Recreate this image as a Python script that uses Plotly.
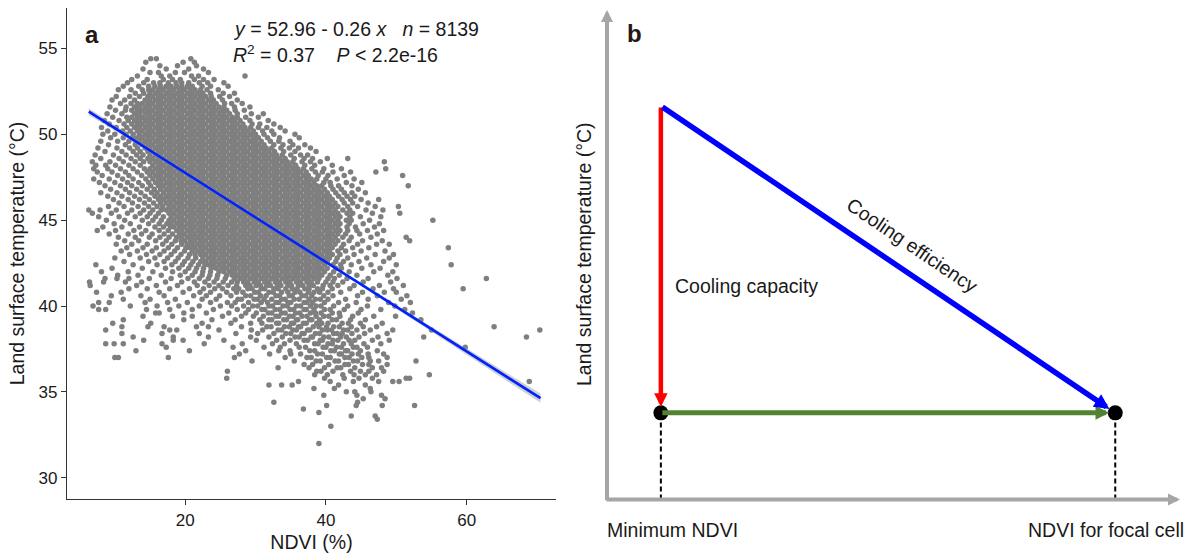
import plotly.graph_objects as go

FONT = "Liberation Sans, Arial, Helvetica, sans-serif"
W, H = 1192, 560

# ---------------- Panel a: values ----------------
fit_intercept = 52.96
fit_slope = -0.26
fit_ndvi_range = [6.3, 70.5]
ci_ndvi = [6.3, 15.0, 25.0, 35.0, 45.0, 55.0, 62.0, 70.5]
ci_halfwidth = [0.20, 0.12, 0.06, 0.05, 0.08, 0.14, 0.19, 0.27]

x_ticks = [20, 40, 60]
y_ticks = [30, 35, 40, 45, 50, 55]

equation_text = "<i>y</i> = 52.96 - 0.26 <i>x</i>&nbsp;&nbsp;&nbsp;<i>n</i> = 8139"
stats_text = "<i>R</i><sup>2</sup> = 0.37&nbsp;&nbsp;&nbsp;&nbsp;<i>P</i> &lt; 2.2e-16"

# scatter points grouped by land surface temperature row (degC); NDVI (%) of the points in each row
lst_rows = [
    54.4, 54.2, 54.0, 53.8, 53.6, 53.4, 53.2, 53.0, 52.8, 52.6, 52.4, 52.2, 52.0,
    51.8, 51.6, 51.4, 51.2, 51.0, 50.8, 50.6, 50.4, 50.2, 50.0, 49.8, 49.6, 49.4,
    49.2, 49.0, 48.8, 48.6, 48.4, 48.2, 48.0, 47.8, 47.6, 47.4, 47.2, 47.0, 46.8,
    46.6, 46.4, 46.2, 46.0, 45.8, 45.6, 45.4, 45.2, 45.0, 44.8, 44.6, 44.4, 44.2,
    44.0, 43.8, 43.6, 43.4, 43.2, 43.0, 42.8, 42.6, 42.4, 42.2, 42.0, 41.8, 41.6,
    41.4, 41.2, 41.0, 40.8, 40.6, 40.4, 40.2, 40.0, 39.8, 39.6, 39.4, 39.2, 39.0,
    38.8, 38.6, 38.4, 38.2, 38.0, 37.8, 37.6, 37.4, 37.2, 37.0, 36.8, 36.6, 36.4,
    36.2, 36.0, 35.8, 35.6, 35.4, 35.2, 35.0, 34.8, 34.6, 34.4, 34.2, 34.0, 33.8,
    33.6, 33.4, 33.0, 32.0,
]
ndvi_rows = [
    [15.1, 15.9, 20.8],  # 54.4
    [14.4, 19.7, 21.3],  # 54.2
    [16.4, 18.9, 21.6],  # 54.0
    [14.0, 17.3, 20.5, 22.6],  # 53.8
    [15.0, 16.2, 18.6, 19.9, 23.3],  # 53.6
    [13.2, 16.6, 17.8, 20.9, 21.9, 28.5],  # 53.4
    [12.4, 14.6, 16.9, 18.2, 19.3, 21.3, 22.6, 24.1],  # 53.2
    [11.8, 14.1, 15.5, 16.4, 17.6, 18.7, 19.5, 20.5, 22.0, 23.2, 25.5],  # 53.0
    [11.2, 13.4, 14.8, 15.7, 16.5, 17.3, 18.0, 18.8, 19.5, 20.3, 21.0, 22.4, 23.6, 26.1],  # 52.8
    [10.5, 12.3, 13.9, 14.8, 15.4, 16.2, 16.9, 17.7, 18.4, 19.2, 19.9, 20.7, 21.4, 22.2, 23.1, 24.7],  # 52.6
    [12.9, 14.1, 15.0, 15.8, 16.5, 17.3, 18.0, 18.8, 19.5, 20.3, 21.0, 21.8, 22.5, 23.6, 25.4, 27.0],  # 52.4
    [10.2, 12.1, 13.5, 14.7, 15.4, 16.2, 16.9, 17.7, 18.4, 19.2, 19.9, 20.7, 21.4, 22.2, 22.9, 23.7,
     24.9, 26.3],  # 52.2
    [9.6, 11.4, 12.8, 14.3, 15.0, 15.8, 16.5, 17.3, 18.0, 18.8, 19.5, 20.3, 21.0, 21.8, 22.5, 23.3,
     24.0, 25.3, 27.4],  # 52.0
    [10.8, 12.3, 13.2, 13.9, 14.7, 15.4, 16.2, 16.9, 17.7, 18.4, 19.2, 19.9, 20.7, 21.4, 22.2, 22.9,
     23.7, 24.4, 25.6, 26.6, 28.1],  # 51.8
    [9.3, 11.6, 12.8, 13.5, 14.3, 15.0, 15.8, 16.5, 17.3, 18.0, 18.8, 19.5, 20.3, 21.0, 21.8, 22.5,
     23.3, 24.0, 24.8, 25.5, 27.0, 29.2],  # 51.6
    [10.1, 11.5, 12.4, 13.2, 13.9, 14.7, 15.4, 16.2, 16.9, 17.7, 18.4, 19.2, 19.9, 20.7, 21.4, 22.2,
     22.9, 23.7, 24.4, 25.2, 25.9, 27.1, 28.4],  # 51.4
    [8.9, 11.0, 12.8, 13.5, 14.3, 15.0, 15.8, 16.5, 17.3, 18.0, 18.8, 19.5, 20.3, 21.0, 21.8, 22.5,
     23.3, 24.0, 24.8, 25.5, 26.3, 27.4, 29.4, 31.1],  # 51.2
    [9.7, 11.7, 12.4, 13.2, 13.9, 14.7, 15.4, 16.2, 16.9, 17.7, 18.4, 19.2, 19.9, 20.7, 21.4, 22.2,
     22.9, 23.7, 24.4, 25.2, 25.9, 26.7, 27.4, 28.6, 30.4],  # 51.0
    [8.5, 10.6, 11.9, 12.8, 13.5, 14.3, 15.0, 15.8, 16.5, 17.3, 18.0, 18.8, 19.5, 20.3, 21.0, 21.8,
     22.5, 23.3, 24.0, 24.8, 25.5, 26.3, 27.0, 27.8, 29.2, 31.8],  # 50.8
    [9.2, 11.3, 12.4, 13.2, 13.9, 14.7, 15.4, 16.2, 16.9, 17.7, 18.4, 19.2, 19.9, 20.7, 21.4, 22.2,
     22.9, 23.7, 24.4, 25.2, 25.9, 26.7, 27.4, 28.2, 29.5, 30.6, 32.6],  # 50.6
    [8.1, 10.2, 11.7, 12.8, 13.5, 14.3, 15.0, 15.8, 16.5, 17.3, 18.0, 18.8, 19.5, 20.3, 21.0, 21.8,
     22.5, 23.3, 24.0, 24.8, 25.5, 26.3, 27.0, 27.8, 28.5, 29.3, 30.4, 31.6, 33.5],  # 50.4
    [9.0, 11.1, 12.2, 13.2, 13.9, 14.7, 15.4, 16.2, 16.9, 17.7, 18.4, 19.2, 19.9, 20.7, 21.4, 22.2,
     22.9, 23.7, 24.4, 25.2, 25.9, 26.7, 27.4, 28.2, 28.9, 29.7, 31.0, 32.3, 34.2],  # 50.2
    [8.3, 10.0, 11.6, 12.6, 13.5, 14.3, 15.0, 15.8, 16.5, 17.3, 18.0, 18.8, 19.5, 20.3, 21.0, 21.8,
     22.5, 23.3, 24.0, 24.8, 25.5, 26.3, 27.0, 27.8, 28.5, 29.3, 30.0, 31.2, 32.6, 35.6],  # 50.0
    [9.4, 11.2, 12.5, 13.2, 13.9, 14.7, 15.4, 16.2, 16.9, 17.7, 18.4, 19.2, 19.9, 20.7, 21.4, 22.2,
     22.9, 23.7, 24.4, 25.2, 25.9, 26.7, 27.4, 28.2, 28.9, 29.7, 30.4, 31.7, 33.4, 36.2],  # 49.8
    [8.0, 10.4, 12.0, 13.0, 13.5, 14.3, 15.0, 15.8, 16.5, 17.3, 18.0, 18.8, 19.5, 20.3, 21.0, 21.8,
     22.5, 23.3, 24.0, 24.8, 25.5, 26.3, 27.0, 27.8, 28.5, 29.3, 30.0, 30.8, 32.1, 33.3, 34.9],  # 49.6
    [9.1, 11.5, 12.9, 13.9, 14.7, 15.4, 16.2, 16.9, 17.7, 18.4, 19.2, 19.9, 20.7, 21.4, 22.2, 22.9,
     23.7, 24.4, 25.2, 25.9, 26.7, 27.4, 28.2, 28.9, 29.7, 30.4, 31.2, 32.6, 33.9, 35.3, 37.0],  # 49.4
    [7.6, 10.3, 12.1, 13.2, 14.3, 15.0, 15.8, 16.5, 17.3, 18.0, 18.8, 19.5, 20.3, 21.0, 21.8, 22.5,
     23.3, 24.0, 24.8, 25.5, 26.3, 27.0, 27.8, 28.5, 29.3, 30.0, 30.8, 31.5, 32.3, 33.6, 34.8, 36.1,
     37.8],  # 49.2
    [8.6, 11.0, 12.6, 13.6, 14.7, 15.4, 16.2, 16.9, 17.7, 18.4, 19.2, 19.9, 20.7, 21.4, 22.2, 22.9,
     23.7, 24.4, 25.2, 25.9, 26.7, 27.4, 28.2, 28.9, 29.7, 30.4, 31.2, 31.9, 32.7, 34.0, 35.6, 38.6],  # 49.0
    [7.2, 9.8, 11.6, 13.1, 14.0, 15.0, 15.8, 16.5, 17.3, 18.0, 18.8, 19.5, 20.3, 21.0, 21.8, 22.5,
     23.3, 24.0, 24.8, 25.5, 26.3, 27.0, 27.8, 28.5, 29.3, 30.0, 30.8, 31.5, 32.3, 33.0, 33.8, 35.0,
     36.4, 37.4],  # 48.8
    [8.0, 10.6, 12.3, 13.6, 14.7, 15.4, 16.2, 16.9, 17.7, 18.4, 19.2, 19.9, 20.7, 21.4, 22.2, 22.9,
     23.7, 24.4, 25.2, 25.9, 26.7, 27.4, 28.2, 28.9, 29.7, 30.4, 31.2, 31.9, 32.7, 33.4, 34.2, 35.5,
     36.9, 38.1, 40.2, 43.1],  # 48.6
    [6.8, 9.3, 11.2, 12.9, 14.1, 15.0, 15.8, 16.5, 17.3, 18.0, 18.8, 19.5, 20.3, 21.0, 21.8, 22.5,
     23.3, 24.0, 24.8, 25.5, 26.3, 27.0, 27.8, 28.5, 29.3, 30.0, 30.8, 31.5, 32.3, 33.0, 33.8, 34.5,
     35.3, 36.6, 37.8, 39.2, 48.3],  # 48.4
    [7.3, 8.7, 10.1, 12.0, 13.6, 15.4, 16.2, 16.9, 17.7, 18.4, 19.2, 19.9, 20.7, 21.4, 22.2, 22.9,
     23.7, 24.4, 25.2, 25.9, 26.7, 27.4, 28.2, 28.9, 29.7, 30.4, 31.2, 31.9, 32.7, 33.4, 34.2, 34.9,
     35.7, 37.0, 38.4, 40.9],  # 48.2
    [7.0, 9.0, 10.8, 12.6, 14.2, 15.0, 15.8, 16.5, 17.3, 18.0, 18.8, 19.5, 20.3, 21.0, 21.8, 22.5,
     23.3, 24.0, 24.8, 25.5, 26.3, 27.0, 27.8, 28.5, 29.3, 30.0, 30.8, 31.5, 32.3, 33.0, 33.8, 34.5,
     35.3, 36.0, 36.8, 38.0, 39.7, 42.2, 48.5],  # 48.0
    [7.5, 9.6, 11.5, 13.2, 14.6, 15.4, 16.2, 16.9, 17.7, 18.4, 19.2, 19.9, 20.7, 21.4, 22.2, 22.9,
     23.7, 24.4, 25.2, 25.9, 26.7, 27.4, 28.2, 28.9, 29.7, 30.4, 31.2, 31.9, 32.7, 33.4, 34.2, 34.9,
     35.7, 36.4, 37.2, 38.5, 39.5, 41.0, 43.5, 47.1],  # 47.8
    [8.2, 10.4, 12.0, 13.8, 15.0, 15.8, 16.5, 17.3, 18.0, 18.8, 19.5, 20.3, 21.0, 21.8, 22.5, 23.3,
     24.0, 24.8, 25.5, 26.3, 27.0, 27.8, 28.5, 29.3, 30.0, 30.8, 31.5, 32.3, 33.0, 33.8, 34.5, 35.3,
     36.0, 36.8, 37.5, 38.9, 40.3, 42.6, 50.9],  # 47.6
    [7.0, 9.2, 11.1, 12.6, 14.4, 15.4, 16.2, 16.9, 17.7, 18.4, 19.2, 19.9, 20.7, 21.4, 22.2, 22.9,
     23.7, 24.4, 25.2, 25.9, 26.7, 27.4, 28.2, 28.9, 29.7, 30.4, 31.2, 31.9, 32.7, 33.4, 34.2, 34.9,
     35.7, 36.4, 37.2, 37.9, 38.7, 40.0, 41.6, 44.0],  # 47.4
    [7.8, 10.0, 11.8, 13.4, 14.8, 15.8, 16.5, 17.3, 18.0, 18.8, 19.5, 20.3, 21.0, 21.8, 22.5, 23.3,
     24.0, 24.8, 25.5, 26.3, 27.0, 27.8, 28.5, 29.3, 30.0, 30.8, 31.5, 32.3, 33.0, 33.8, 34.5, 35.3,
     36.0, 36.8, 37.5, 38.3, 39.7, 40.6, 42.9, 45.1],  # 47.2
    [8.6, 10.8, 12.4, 13.9, 15.1, 16.2, 16.9, 17.7, 18.4, 19.2, 19.9, 20.7, 21.4, 22.2, 22.9, 23.7,
     24.4, 25.2, 25.9, 26.7, 27.4, 28.2, 28.9, 29.7, 30.4, 31.2, 31.9, 32.7, 33.4, 34.2, 34.9, 35.7,
     36.4, 37.2, 37.9, 38.7, 39.4, 40.7, 41.8, 43.7, 51.7],  # 47.0
    [9.4, 11.5, 13.1, 14.6, 15.6, 16.5, 17.3, 18.0, 18.8, 19.5, 20.3, 21.0, 21.8, 22.5, 23.3, 24.0,
     24.8, 25.5, 26.3, 27.0, 27.8, 28.5, 29.3, 30.0, 30.8, 31.5, 32.3, 33.0, 33.8, 34.5, 35.3, 36.0,
     36.8, 37.5, 38.3, 39.0, 39.8, 41.0, 42.2, 44.6],  # 46.8
    [8.0, 10.3, 12.1, 13.7, 15.2, 16.0, 16.9, 17.7, 18.4, 19.2, 19.9, 20.7, 21.4, 22.2, 22.9, 23.7,
     24.4, 25.2, 25.9, 26.7, 27.4, 28.2, 28.9, 29.7, 30.4, 31.2, 31.9, 32.7, 33.4, 34.2, 34.9, 35.7,
     36.4, 37.2, 37.9, 38.7, 39.4, 40.2, 41.4, 42.6, 43.7, 45.6],  # 46.6
    [9.0, 11.0, 12.8, 14.3, 15.7, 16.5, 17.3, 18.0, 18.8, 19.5, 20.3, 21.0, 21.8, 22.5, 23.3, 24.0,
     24.8, 25.5, 26.3, 27.0, 27.8, 28.5, 29.3, 30.0, 30.8, 31.5, 32.3, 33.0, 33.8, 34.5, 35.3, 36.0,
     36.8, 37.5, 38.3, 39.0, 39.8, 40.5, 41.8, 43.0, 44.1],  # 46.4
    [9.8, 11.9, 13.5, 14.9, 16.2, 16.9, 17.7, 18.4, 19.2, 19.9, 20.7, 21.4, 22.2, 22.9, 23.7, 24.4,
     25.2, 25.9, 26.7, 27.4, 28.2, 28.9, 29.7, 30.4, 31.2, 31.9, 32.7, 33.4, 34.2, 34.9, 35.7, 36.4,
     37.2, 37.9, 38.7, 39.4, 40.2, 40.9, 42.3, 43.5, 45.0, 47.5],  # 46.2
    [10.6, 12.5, 14.2, 15.5, 16.5, 17.3, 18.0, 18.8, 19.5, 20.3, 21.0, 21.8, 22.5, 23.3, 24.0, 24.8,
     25.5, 26.3, 27.0, 27.8, 28.5, 29.3, 30.0, 30.8, 31.5, 32.3, 33.0, 33.8, 34.5, 35.3, 36.0, 36.8,
     37.5, 38.3, 39.0, 39.8, 40.5, 41.3, 42.6, 43.8, 46.0],  # 46.0
    [9.1, 11.3, 13.3, 14.8, 16.0, 16.8, 17.7, 18.4, 19.2, 19.9, 20.7, 21.4, 22.2, 22.9, 23.7, 24.4,
     25.2, 25.9, 26.7, 27.4, 28.2, 28.9, 29.7, 30.4, 31.2, 31.9, 32.7, 33.4, 34.2, 34.9, 35.7, 36.4,
     37.2, 37.9, 38.7, 39.4, 40.2, 40.9, 41.7, 43.1, 44.5, 47.0, 50.3],  # 45.8
    [6.3, 7.9, 10.2, 12.4, 14.1, 15.4, 16.6, 17.3, 18.0, 18.8, 19.5, 20.3, 21.0, 21.8, 22.5, 23.3,
     24.0, 24.8, 25.5, 26.3, 27.0, 27.8, 28.5, 29.3, 30.0, 30.8, 31.5, 32.3, 33.0, 33.8, 34.5, 35.3,
     36.0, 36.8, 37.5, 38.3, 39.0, 39.8, 40.5, 41.3, 42.4, 43.4, 45.7, 48.1],  # 45.6
    [6.8, 9.5, 11.8, 13.6, 15.0, 16.2, 17.7, 18.4, 19.2, 19.9, 20.7, 21.4, 22.2, 22.9, 23.7, 24.4,
     25.2, 25.9, 26.7, 27.4, 28.2, 28.9, 29.7, 30.4, 31.2, 31.9, 32.7, 33.4, 34.2, 34.9, 35.7, 36.4,
     37.2, 37.9, 38.7, 39.4, 40.2, 40.9, 41.7, 43.0, 43.8, 46.6, 50.5],  # 45.4
    [7.7, 10.6, 12.9, 14.6, 15.8, 16.9, 18.0, 18.8, 19.5, 20.3, 21.0, 21.8, 22.5, 23.3, 24.0, 24.8,
     25.5, 26.3, 27.0, 27.8, 28.5, 29.3, 30.0, 30.8, 31.5, 32.3, 33.0, 33.8, 34.5, 35.3, 36.0, 36.8,
     37.5, 38.3, 39.0, 39.8, 40.5, 41.3, 42.0, 43.4, 44.9, 47.8],  # 45.2
    [8.8, 11.4, 13.9, 15.4, 16.6, 17.7, 18.4, 19.2, 19.9, 20.7, 21.4, 22.2, 22.9, 23.7, 24.4, 25.2,
     25.9, 26.7, 27.4, 28.2, 28.9, 29.7, 30.4, 31.2, 31.9, 32.7, 33.4, 34.2, 34.9, 35.7, 36.4, 37.2,
     37.9, 38.7, 39.4, 40.2, 40.9, 41.7, 42.9, 43.6, 46.2, 55.2],  # 45.0
    [9.9, 12.2, 14.8, 16.3, 17.4, 18.0, 18.8, 19.5, 20.3, 21.0, 21.8, 22.5, 23.3, 24.0, 24.8, 25.5,
     26.3, 27.0, 27.8, 28.5, 29.3, 30.0, 30.8, 31.5, 32.3, 33.0, 33.8, 34.5, 35.3, 36.0, 36.8, 37.5,
     38.3, 39.0, 39.8, 40.5, 41.3, 42.0, 43.3, 45.3, 47.6],  # 44.8
    [8.3, 11.0, 13.5, 15.7, 16.9, 17.9, 18.4, 19.2, 19.9, 20.7, 21.4, 22.2, 22.9, 23.7, 24.4, 25.2,
     25.9, 26.7, 27.4, 28.2, 28.9, 29.7, 30.4, 31.2, 31.9, 32.7, 33.4, 34.2, 34.9, 35.7, 36.4, 37.2,
     37.9, 38.7, 39.4, 40.2, 40.9, 41.7, 43.0, 44.2, 46.9],  # 44.6
    [7.5, 10.1, 12.7, 14.4, 16.3, 17.6, 18.8, 19.5, 20.3, 21.0, 21.8, 22.5, 23.3, 24.0, 24.8, 25.5,
     26.3, 27.0, 27.8, 28.5, 29.3, 30.0, 30.8, 31.5, 32.3, 33.0, 33.8, 34.5, 35.3, 36.0, 36.8, 37.5,
     38.3, 39.0, 39.8, 40.5, 41.3, 42.0, 43.1, 44.4, 45.9, 48.2],  # 44.4
    [9.2, 11.9, 13.8, 15.3, 17.0, 18.2, 19.2, 19.9, 20.7, 21.4, 22.2, 22.9, 23.7, 24.4, 25.2, 25.9,
     26.7, 27.4, 28.2, 28.9, 29.7, 30.4, 31.2, 31.9, 32.7, 33.4, 34.2, 34.9, 35.7, 36.4, 37.2, 37.9,
     38.7, 39.4, 40.2, 40.9, 41.7, 42.8, 44.8, 47.3],  # 44.2
    [10.5, 12.9, 14.9, 16.4, 17.7, 18.8, 19.5, 20.3, 21.0, 21.8, 22.5, 23.3, 24.0, 24.8, 25.5, 26.3,
     27.0, 27.8, 28.5, 29.3, 30.0, 30.8, 31.5, 32.3, 33.0, 33.8, 34.5, 35.3, 36.0, 36.8, 37.5, 38.3,
     39.0, 39.8, 40.5, 41.3, 42.4, 43.6, 46.4, 51.4],  # 44.0
    [11.4, 13.4, 15.8, 17.3, 18.6, 19.4, 19.9, 20.7, 21.4, 22.2, 22.9, 23.7, 24.4, 25.2, 25.9, 26.7,
     27.4, 28.2, 28.9, 29.7, 30.4, 31.2, 31.9, 32.7, 33.4, 34.2, 34.9, 35.7, 36.4, 37.2, 37.9, 38.7,
     39.4, 40.2, 40.9, 41.7, 43.3, 45.2, 48.0, 51.9],  # 43.8
    [10.2, 12.4, 14.6, 16.8, 18.1, 19.5, 20.3, 21.0, 21.8, 22.5, 23.3, 24.0, 24.8, 25.5, 26.3, 27.0,
     27.8, 28.5, 29.3, 30.0, 30.8, 31.5, 32.3, 33.0, 33.8, 34.5, 35.3, 36.0, 36.8, 37.5, 38.3, 39.0,
     39.8, 40.5, 41.3, 42.5, 44.5, 47.2, 49.0],  # 43.6
    [11.7, 14.0, 15.9, 17.6, 18.9, 20.1, 20.7, 21.4, 22.2, 22.9, 23.7, 24.4, 25.2, 25.9, 26.7, 27.4,
     28.2, 28.9, 29.7, 30.4, 31.2, 31.9, 32.7, 33.4, 34.2, 34.9, 35.7, 36.4, 37.2, 37.9, 38.7, 39.4,
     40.2, 40.9, 42.2, 43.8, 46.1, 57.4],  # 43.4
    [10.9, 13.2, 15.3, 17.0, 18.5, 19.9, 21.0, 21.8, 22.5, 23.3, 24.0, 24.8, 25.5, 26.3, 27.0, 27.8,
     28.5, 29.3, 30.0, 30.8, 31.5, 32.3, 33.0, 33.8, 34.5, 35.3, 36.0, 36.8, 37.5, 38.3, 39.0, 39.8,
     40.5, 41.7, 42.8, 45.0, 48.4],  # 43.2
    [12.1, 14.5, 16.4, 18.0, 19.4, 20.6, 21.4, 22.2, 22.9, 23.7, 24.4, 25.2, 25.9, 26.7, 27.4, 28.2,
     28.9, 29.7, 30.4, 31.2, 31.9, 32.7, 33.4, 34.2, 34.9, 35.7, 36.4, 37.2, 37.9, 38.7, 39.4, 40.2,
     40.9, 42.0, 44.0, 47.0, 49.6],  # 43.0
    [10.0, 13.6, 15.7, 17.5, 19.0, 20.4, 21.5, 22.5, 23.3, 24.0, 24.8, 25.5, 26.3, 27.0, 27.8, 28.5,
     29.3, 30.0, 30.8, 31.5, 32.3, 33.0, 33.8, 34.5, 35.3, 36.0, 36.8, 37.5, 38.3, 39.0, 39.8, 40.5,
     41.6, 43.1, 45.8, 49.0],  # 42.8
    [11.3, 14.8, 17.0, 18.6, 19.9, 21.1, 22.2, 22.9, 23.7, 24.4, 25.2, 25.9, 26.7, 27.4, 28.2, 28.9,
     29.7, 30.4, 31.2, 31.9, 32.7, 33.4, 34.2, 34.9, 35.7, 36.4, 37.2, 37.9, 38.7, 39.4, 40.2, 41.4,
     42.5, 44.7, 48.2],  # 42.6
    [7.3, 12.6, 16.0, 18.1, 19.6, 20.8, 21.9, 22.8, 23.3, 24.0, 24.8, 25.5, 26.3, 27.0, 27.8, 28.5,
     29.3, 30.0, 30.8, 31.5, 32.3, 33.0, 33.8, 34.5, 35.3, 36.0, 36.8, 37.5, 38.3, 39.0, 39.8, 41.0,
     42.1, 43.6, 46.4, 50.0, 57.8],  # 42.4
    [9.6, 13.9, 17.2, 19.1, 20.5, 21.6, 22.6, 23.7, 24.4, 25.2, 25.9, 26.7, 27.4, 28.2, 28.9, 29.7,
     30.4, 31.2, 31.9, 32.7, 33.4, 34.2, 34.9, 35.7, 36.4, 37.2, 37.9, 38.7, 39.4, 40.2, 41.4, 42.2,
     45.1, 47.7],  # 42.2
    [8.1, 11.9, 15.4, 18.2, 20.0, 21.4, 22.5, 23.6, 24.8, 25.5, 26.3, 27.0, 27.8, 28.5, 29.3, 30.0,
     30.8, 31.5, 32.3, 33.0, 33.8, 34.5, 35.3, 36.0, 36.8, 37.5, 38.3, 39.0, 39.8, 41.1, 43.3, 46.8,
     49.5],  # 42.0
    [10.4, 13.3, 16.6, 19.3, 21.0, 22.4, 23.5, 24.6, 25.9, 26.7, 27.4, 28.2, 28.9, 29.7, 30.4, 31.2,
     31.9, 32.7, 33.4, 34.2, 34.9, 35.7, 36.4, 37.2, 37.9, 38.7, 39.4, 40.6, 41.9, 44.4, 48.8],  # 41.8
    [8.6, 10.3, 12.0, 14.9, 18.0, 20.4, 22.0, 23.3, 24.5, 25.7, 27.0, 27.8, 28.5, 29.3, 30.0, 30.8,
     31.5, 32.3, 33.0, 33.8, 34.5, 35.3, 36.0, 36.8, 37.5, 38.3, 39.0, 40.3, 41.2, 43.0, 46.0, 50.1,
     62.8],  # 41.6
    [6.4, 8.4, 11.5, 13.8, 17.2, 19.5, 21.3, 22.8, 24.1, 25.4, 26.6, 27.4, 28.3, 28.9, 29.8, 30.4,
     31.3, 31.9, 32.8, 33.4, 34.3, 34.9, 35.8, 36.4, 37.3, 37.9, 38.8, 40.0, 41.0, 42.4, 45.3, 49.2],  # 41.4
    [6.5, 13.1, 15.9, 18.9, 21.7, 23.4, 24.8, 26.1, 27.3, 28.6, 29.2, 30.1, 30.7, 31.6, 32.1, 33.1,
     33.6, 34.6, 35.1, 36.1, 36.7, 37.6, 38.2, 39.6, 40.6, 41.7, 44.0, 47.6, 51.0],  # 41.2
    [12.0, 14.6, 17.8, 20.6, 22.6, 24.2, 25.3, 26.9, 27.6, 28.9, 29.5, 30.8, 31.3, 32.6, 33.2, 34.3,
     35.2, 35.9, 37.0, 37.6, 38.8, 39.5, 40.9, 43.4, 46.7, 49.6, 59.5],  # 41.0
    [7.4, 10.9, 16.3, 19.7, 22.1, 23.6, 25.9, 27.3, 28.2, 29.9, 30.4, 31.9, 32.5, 33.7, 34.6, 35.6,
     36.3, 37.5, 38.3, 39.1, 40.3, 42.1, 45.2, 48.3, 50.0],  # 40.8
    [9.5, 13.7, 17.0, 21.2, 23.0, 24.9, 26.5, 28.6, 29.3, 30.7, 31.5, 32.9, 33.4, 34.8, 35.2, 36.6,
     37.1, 38.0, 39.7, 41.0, 44.5, 47.3, 51.5],  # 40.6
    [11.2, 15.0, 18.6, 22.4, 24.4, 27.5, 28.0, 29.8, 30.3, 31.2, 32.3, 33.7, 34.2, 35.5, 36.2, 37.6,
     38.5, 39.2, 40.3, 42.8, 46.0, 50.7],  # 40.4
    [7.7, 9.2, 14.3, 17.5, 20.3, 23.6, 26.0, 27.1, 29.0, 30.8, 31.7, 32.9, 33.3, 34.6, 35.0, 36.9,
     37.3, 38.1, 39.8, 41.8, 44.3, 48.9, 52.0],  # 40.2
    [6.9, 12.2, 16.0, 19.1, 22.0, 25.0, 26.6, 28.3, 29.6, 30.3, 31.9, 32.4, 33.9, 34.5, 35.8, 36.4,
     37.8, 38.6, 39.3, 41.1, 43.1, 45.9, 49.8],  # 40.0
    [7.7, 8.7, 14.5, 17.8, 21.0, 24.0, 27.4, 29.0, 30.9, 31.3, 32.8, 33.4, 34.9, 35.4, 36.9, 37.2,
     38.3, 39.8, 40.6, 42.6, 45.0, 47.8, 51.2],  # 39.8
    [15.8, 16.3, 19.8, 23.0, 26.2, 28.6, 30.1, 31.8, 32.3, 33.7, 34.2, 35.7, 36.3, 37.8, 38.5, 39.3,
     40.9, 41.9, 44.6, 52.3],  # 39.6
    [14.0, 18.2, 21.0, 25.3, 28.0, 29.7, 31.1, 32.9, 33.3, 34.8, 35.3, 36.6, 37.3, 38.6, 39.7, 40.4,
     42.0, 43.8, 46.8, 49.9],  # 39.4
    [11.2, 19.8, 23.8, 27.1, 30.6, 31.9, 32.3, 34.0, 34.4, 35.8, 36.0, 37.7, 38.0, 39.1, 40.9, 41.5,
     43.5, 45.6, 53.5],  # 39.2
    [9.7, 15.1, 22.4, 26.5, 29.3, 30.9, 33.0, 33.3, 35.1, 35.4, 36.8, 37.2, 38.7, 39.4, 40.3, 42.3,
     43.2, 44.9, 48.0],  # 39.0
    [11.0, 14.7, 17.0, 21.6, 23.3, 28.0, 31.6, 32.2, 34.1, 34.8, 36.1, 36.4, 38.2, 39.0, 40.1, 41.1,
     41.9, 43.6, 45.3, 47.2, 63.9],  # 38.8
    [8.7, 17.8, 18.8, 24.8, 29.4, 31.0, 33.2, 33.7, 35.3, 35.8, 37.4, 37.7, 39.5, 40.2, 40.8, 42.5,
     43.1, 44.4, 46.3, 49.5, 55.0, 70.4],  # 38.6
    [11.0, 16.7, 22.0, 27.2, 30.3, 32.6, 34.3, 35.0, 36.6, 36.9, 38.5, 39.1, 41.1, 41.6, 42.3, 43.7,
     45.5, 48.7],  # 38.4
    [12.6, 18.3, 23.3, 29.3, 31.9, 33.8, 35.6, 36.2, 37.9, 38.1, 39.7, 40.4, 42.1, 42.9, 44.7, 47.4,
     53.9, 68.5],  # 38.2
    [14.1, 18.3, 19.7, 25.5, 30.1, 33.0, 34.9, 36.9, 37.4, 39.2, 39.5, 41.0, 41.7, 43.3, 44.1, 46.6,
     49.0],  # 38.0
    [8.7, 9.9, 11.2, 16.7, 22.7, 28.1, 32.4, 34.1, 35.8, 38.4, 38.9, 40.3, 40.9, 42.5, 43.6, 45.4,
     47.8],  # 37.8
    [17.3, 26.8, 31.2, 33.5, 36.2, 37.1, 39.6, 40.0, 41.5, 42.2, 43.9, 44.4, 45.9, 59.8],  # 37.6
    [13.0, 20.6, 28.6, 33.3, 34.9, 37.7, 38.4, 40.7, 41.2, 42.8, 43.1, 44.9, 47.3],  # 37.4
    [27.7, 32.0, 35.0, 36.4, 38.8, 39.5, 41.9, 42.2, 43.7, 44.6, 46.0, 48.2],  # 37.2
    [10.0, 10.5, 17.6, 27.0, 34.2, 37.3, 37.9, 40.1, 40.6, 42.7, 43.3, 45.1, 46.1, 48.7],  # 37.0
    [29.5, 35.5, 38.6, 39.2, 41.3, 41.8, 43.9, 44.5, 46.3, 47.5, 52.8],  # 36.8
    [36.9, 38.1, 40.4, 42.7, 43.2, 45.2, 46.1, 48.7],  # 36.6
    [33.2, 37.6, 39.8, 41.6, 42.1, 44.1, 46.6, 47.9],  # 36.4
    [26.0, 38.7, 39.3, 41.0, 43.5, 44.9, 46.1, 48.2],  # 36.2
    [38.4, 40.2, 42.4, 44.0, 45.6, 47.2, 54.7],  # 36.0
    [25.9, 39.8, 42.6, 44.7, 46.6, 51.4, 51.9],  # 35.8
    [36.1, 40.6, 43.9, 47.5, 49.5, 50.4, 68.9],  # 35.6
    [31.9, 33.7, 35.2, 41.8, 45.6],  # 35.4
    [38.3, 41.2, 46.3],  # 35.2
    [42.9, 44.1, 46.4],  # 35.0
    [39.7, 44.4, 47.9],  # 34.8
    [45.3, 48.4],  # 34.6
    [32.6, 44.5],  # 34.4
    [40.1, 44.3, 48.0, 52.6],  # 34.2
    [36.8],  # 34.0
    [39.0],  # 33.8
    [43.6, 47.0],  # 33.6
    [47.3],  # 33.4
    [40.7],  # 33.0
    [39.0],  # 32.0
]
assert len(lst_rows) == len(ndvi_rows)

ndvi = [x for xs in ndvi_rows for x in xs]
lst = [y for y, xs in zip(lst_rows, ndvi_rows) for _ in xs]

# ---------------- Panel b: schematic positions (unitless 0-1 scale) ----------------
min_ndvi_pos = 0.094
focal_ndvi_pos = 0.887
lst_top_pos = 0.804
lst_focal_pos = 0.177

label_min = "Minimum NDVI"
label_focal = "NDVI for focal cell"
label_capacity = "Cooling capacity"
label_efficiency = "Cooling efficiency"
y_title = "Land surface temperature (°C)"


def px_x(p):
    return p / W


def px_y(p):
    return 1 - p / H


fig = go.Figure()

# Panel a: scatter
fig.add_trace(go.Scatter(
    x=ndvi, y=lst, mode="markers",
    marker=dict(color="#7f7f7f", size=5.5, line=dict(width=0)),
    xaxis="x", yaxis="y", hoverinfo="skip", showlegend=False,
))

# Panel a: confidence band and fitted line
ci_mid = [fit_intercept + fit_slope * v for v in ci_ndvi]
ci_upper = [m + h for m, h in zip(ci_mid, ci_halfwidth)]
ci_lower = [m - h for m, h in zip(ci_mid, ci_halfwidth)]
fig.add_trace(go.Scatter(
    x=ci_ndvi + ci_ndvi[::-1], y=ci_upper + ci_lower[::-1],
    fill="toself", fillcolor="rgba(153,153,153,0.45)", line=dict(width=0),
    mode="lines", xaxis="x", yaxis="y", hoverinfo="skip", showlegend=False,
))
fig.add_trace(go.Scatter(
    x=fit_ndvi_range, y=[fit_intercept + fit_slope * v for v in fit_ndvi_range],
    mode="lines", line=dict(color="#0022ff", width=2.6),
    xaxis="x", yaxis="y", hoverinfo="skip", showlegend=False,
))

# Panel b: points
fig.add_trace(go.Scatter(
    x=[min_ndvi_pos, focal_ndvi_pos], y=[lst_focal_pos, lst_focal_pos],
    mode="markers", marker=dict(color="black", size=15),
    xaxis="x2", yaxis="y2", hoverinfo="skip", showlegend=False,
))

axis_font = dict(family=FONT, size=17, color="#1a1a1a")
title_font = dict(family=FONT, size=19.5, color="#1a1a1a")

fig.update_layout(
    width=W, height=H, autosize=False,
    margin=dict(l=0, r=0, t=0, b=0),
    paper_bgcolor="white", plot_bgcolor="white",
    font=dict(family=FONT, color="#1a1a1a"),
    showlegend=False,
    xaxis=dict(
        domain=[px_x(67), px_x(556)], range=[3.2, 72.7],
        tickvals=x_ticks, ticks="outside", ticklen=5, tickwidth=1.2, tickcolor="#333333",
        showline=True, linecolor="#333333", linewidth=1.3, showgrid=False, zeroline=False,
        tickfont=axis_font,
        title=dict(text="NDVI (%)", font=title_font, standoff=6),
    ),
    yaxis=dict(
        domain=[1 - 499 / H, 1 - 8 / H], range=[28.76, 57.36],
        tickvals=y_ticks, ticks="outside", ticklen=5, tickwidth=1.2, tickcolor="#333333",
        showline=True, linecolor="#333333", linewidth=1.3, showgrid=False, zeroline=False,
        tickfont=axis_font,
        title=dict(text=y_title, font=title_font, standoff=8),
    ),
    xaxis2=dict(domain=[px_x(607), px_x(1180)], range=[0, 1], visible=False, anchor="y2"),
    yaxis2=dict(domain=[1 - 499.5 / H, 1 - 10 / H], range=[0, 1], visible=False, anchor="x2"),
)

# dashed guides in panel b
for xv in (min_ndvi_pos, focal_ndvi_pos):
    fig.add_shape(type="line", xref="x2", yref="y2", x0=xv, x1=xv, y0=0, y1=lst_focal_pos,
                  line=dict(color="black", width=2, dash="5px,3px"), layer="below")

annotations = []


def arrow(x0, y0, x1, y1, color, width, size, standoff=0):
    annotations.append(dict(
        x=x1, y=y1, ax=x0, ay=y0, xref="x2", yref="y2", axref="x2", ayref="y2",
        showarrow=True, arrowhead=2, arrowsize=size, arrowwidth=width, arrowcolor=color,
        standoff=standoff, text="",
    ))


# panel b axes (grey arrows)
arrow(0, -0.004, 0, 1, "#a6a6a6", 4, 0.6)
arrow(-0.004, 0, 1, 0, "#a6a6a6", 4, 0.6)
# green, red, blue arrows
arrow(min_ndvi_pos, lst_focal_pos, focal_ndvi_pos, lst_focal_pos, "#548235", 5, 0.55, standoff=6)
arrow(min_ndvi_pos, lst_top_pos, min_ndvi_pos, lst_focal_pos, "#ff0000", 4.5, 0.6, standoff=6)
arrow(min_ndvi_pos, lst_top_pos, focal_ndvi_pos, lst_focal_pos, "#0000ff", 5.5, 0.55, standoff=7)

text_font = dict(family=FONT, size=19.5, color="#1a1a1a")
label_font = dict(family=FONT, size=24, color="#231815")

annotations += [
    dict(text="<b>a</b>", x=px_x(83), y=px_y(34), xref="paper", yref="paper",
         xanchor="left", yanchor="middle", showarrow=False, font=label_font),
    dict(text="<b>b</b>", x=px_x(625), y=px_y(33), xref="paper", yref="paper",
         xanchor="left", yanchor="middle", showarrow=False, font=label_font),
    dict(text=equation_text, x=px_x(231), y=px_y(28.5), xref="paper", yref="paper",
         xanchor="left", yanchor="middle", showarrow=False, font=text_font),
    dict(text=stats_text, x=px_x(231), y=px_y(54), xref="paper", yref="paper",
         xanchor="left", yanchor="middle", showarrow=False, font=text_font),
    dict(text=label_capacity, x=px_x(673), y=px_y(286), xref="paper", yref="paper",
         xanchor="left", yanchor="middle", showarrow=False, font=text_font),
    dict(text=label_efficiency, x=px_x(912), y=px_y(245), xref="paper", yref="paper",
         xanchor="center", yanchor="middle", showarrow=False, font=text_font, textangle=34),
    dict(text=label_min, x=px_x(605), y=px_y(530), xref="paper", yref="paper",
         xanchor="left", yanchor="middle", showarrow=False, font=text_font),
    dict(text=label_focal, x=px_x(1186), y=px_y(530), xref="paper", yref="paper",
         xanchor="right", yanchor="middle", showarrow=False, font=text_font),
    dict(text=y_title, x=px_x(584), y=px_y(254), xref="paper", yref="paper",
         xanchor="center", yanchor="middle", showarrow=False, font=text_font, textangle=-90),
]
fig.update_layout(annotations=annotations)

fig.write_html(
    "out.html",
    config={"displayModeBar": False},
    post_script="document.body.style.margin='0px';",
)
